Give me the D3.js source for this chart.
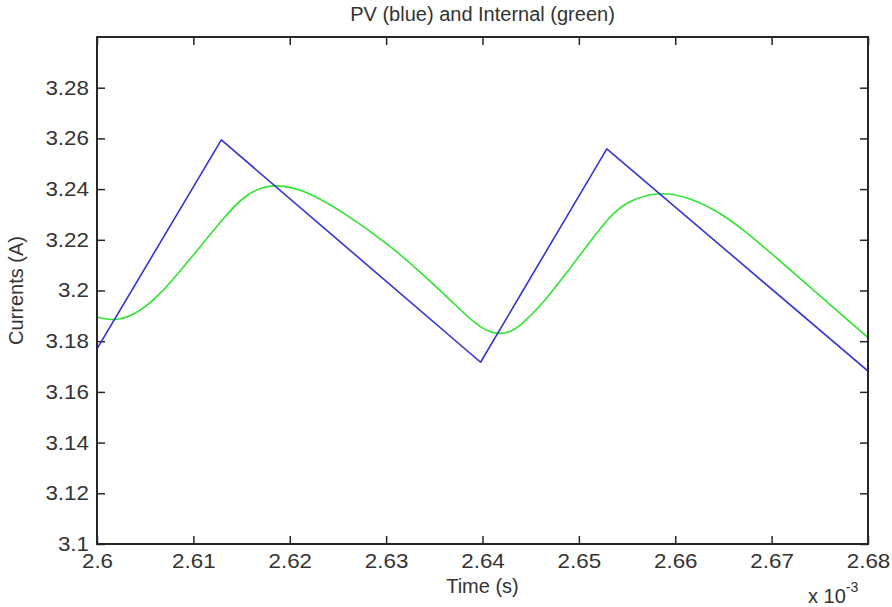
<!DOCTYPE html>
<html>
<head>
<meta charset="utf-8">
<script src="https://cdn.jsdelivr.net/npm/d3@7"></script>
<style>
  html, body { margin: 0; padding: 0; background: #fff; }
  svg { display: block; font-family: "Liberation Sans", Arial, Helvetica, sans-serif; }
</style>
</head>
<body>
<svg id="chart" width="892" height="607"></svg>
<script>
// Time in units of 1e-3 s, currents in A.
const xTicks = [2.6, 2.61, 2.62, 2.63, 2.64, 2.65, 2.66, 2.67, 2.68];
const yTicks = [3.1, 3.12, 3.14, 3.16, 3.18, 3.2, 3.22, 3.24, 3.26, 3.28];

// PV current (blue): triangular ripple, vertices
const pvTime    = [2.6000, 2.6129, 2.6398, 2.6529, 2.6800];
const pvCurrent = [3.1770, 3.2594, 3.1717, 3.2559, 3.1682];

// Internal current (green): smoothed response
const intTime = [2.6000, 2.6017, 2.6038, 2.6062, 2.6086, 2.6114, 2.6131, 2.6155, 2.6183,
                 2.6217, 2.6255, 2.6300, 2.6335, 2.6370, 2.6394, 2.6411, 2.6428, 2.6439,
                 2.6463, 2.6487, 2.6511, 2.6532, 2.6549, 2.6581, 2.6608, 2.6639, 2.6674,
                 2.6708, 2.6743, 2.6777, 2.6800];
const intCurrent = [3.1895, 3.1880, 3.1900, 3.1970, 3.2075, 3.2205, 3.2285, 3.2385, 3.2424,
                    3.2395, 3.2310, 3.2190, 3.2075, 3.1950, 3.1862, 3.1827, 3.1833, 3.1860,
                    3.1950, 3.2068, 3.2190, 3.2292, 3.2350, 3.2390, 3.2374, 3.2326, 3.2232,
                    3.2118, 3.2003, 3.1890, 3.1814];

const svg = d3.select("#chart");
const margin = { left: 97, right: 24, top: 37, bottom: 63 };
const W = 892, H = 607;
const x = d3.scaleLinear().domain([2.6, 2.68]).range([margin.left, W - margin.right]);
const y = d3.scaleLinear().domain([3.1, 3.3]).range([H - margin.bottom, margin.top]);

const ink = "#262626";
const tickLen = 8;
const fontSize = 20;

// Ticks on all four sides, pointing inward
const bottomAxis = d3.axisBottom(x).tickValues(xTicks).tickSizeInner(-tickLen).tickSizeOuter(0)
  .tickPadding(10).tickFormat(d3.format(""));
const topAxis = d3.axisTop(x).tickValues(xTicks).tickSizeInner(-tickLen).tickSizeOuter(0).tickFormat("");
const leftAxis = d3.axisLeft(y).tickValues(yTicks).tickSizeInner(-tickLen).tickSizeOuter(0)
  .tickPadding(8).tickFormat(d3.format(""));
const rightAxis = d3.axisRight(y).tickValues(yTicks).tickSizeInner(-tickLen).tickSizeOuter(0).tickFormat("");

function styleAxis(g) {
  g.select(".domain").remove();
  g.selectAll(".tick line").attr("stroke", ink).attr("stroke-width", 1.5);
  g.selectAll(".tick text").attr("fill", "#333").style("font-size", fontSize + "px")
    .style("font-family", "'Liberation Sans', Arial, sans-serif");
}

svg.append("g").attr("transform", `translate(0,${y(3.1)})`).call(bottomAxis).call(styleAxis)
  .selectAll(".tick text").attr("transform", "scale(1.12,1)");
svg.append("g").attr("transform", `translate(0,${y(3.3)})`).call(topAxis).call(styleAxis);
svg.append("g").attr("transform", `translate(${x(2.6)},0)`).call(leftAxis).call(styleAxis)
  .selectAll(".tick text").attr("transform", "scale(1.12,1)").attr("x", -8 / 1.12);
svg.append("g").attr("transform", `translate(${x(2.68)},0)`).call(rightAxis).call(styleAxis);

// Clip the curves to the plot box
svg.append("clipPath").attr("id", "plotClip").append("rect")
  .attr("x", x(2.6)).attr("y", y(3.3))
  .attr("width", x(2.68) - x(2.6)).attr("height", y(3.1) - y(3.3));

const pvData = pvTime.map((t, i) => [t, pvCurrent[i]]);
const intData = intTime.map((t, i) => [t, intCurrent[i]]);

const linePv = d3.line().x(d => x(d[0])).y(d => y(d[1]));
const lineInt = d3.line().x(d => x(d[0])).y(d => y(d[1])).curve(d3.curveBasis);

const plot = svg.append("g").attr("clip-path", "url(#plotClip)");
plot.append("path").datum(intData).attr("d", lineInt)
  .attr("fill", "none").attr("stroke", "#2fe52f").attr("stroke-width", 1.6);
plot.append("path").datum(pvData).attr("d", linePv)
  .attr("fill", "none").attr("stroke", "#3434d2").attr("stroke-width", 1.6)
  .attr("stroke-linejoin", "round");

// Axes box
svg.append("rect")
  .attr("x", x(2.6)).attr("y", y(3.3))
  .attr("width", x(2.68) - x(2.6)).attr("height", y(3.1) - y(3.3))
  .attr("fill", "none").attr("stroke", ink).attr("stroke-width", 2);

// Title and axis labels
svg.append("text").attr("x", (x(2.6) + x(2.68)) / 2).attr("y", 21)
  .attr("text-anchor", "middle").attr("fill", "#333").style("font-size", "20px")
  .text("PV (blue) and Internal (green)");

svg.append("text").attr("x", (x(2.6) + x(2.68)) / 2).attr("y", 593)
  .attr("text-anchor", "middle").attr("fill", "#333").style("font-size", "20px")
  .text("Time (s)");

svg.append("text")
  .attr("transform", `translate(23,${(y(3.1) + y(3.3)) / 2}) rotate(-90)`)
  .attr("text-anchor", "middle").attr("fill", "#333").style("font-size", "20px")
  .text("Currents (A)");

// Exponent for the time axis
const expo = svg.append("text").attr("x", 808).attr("y", 603)
  .attr("fill", "#333").style("font-size", "20px");
expo.append("tspan").text("x 10");
expo.append("tspan").attr("dy", -11).style("font-size", "14px").text("-3");
</script>
</body>
</html>
